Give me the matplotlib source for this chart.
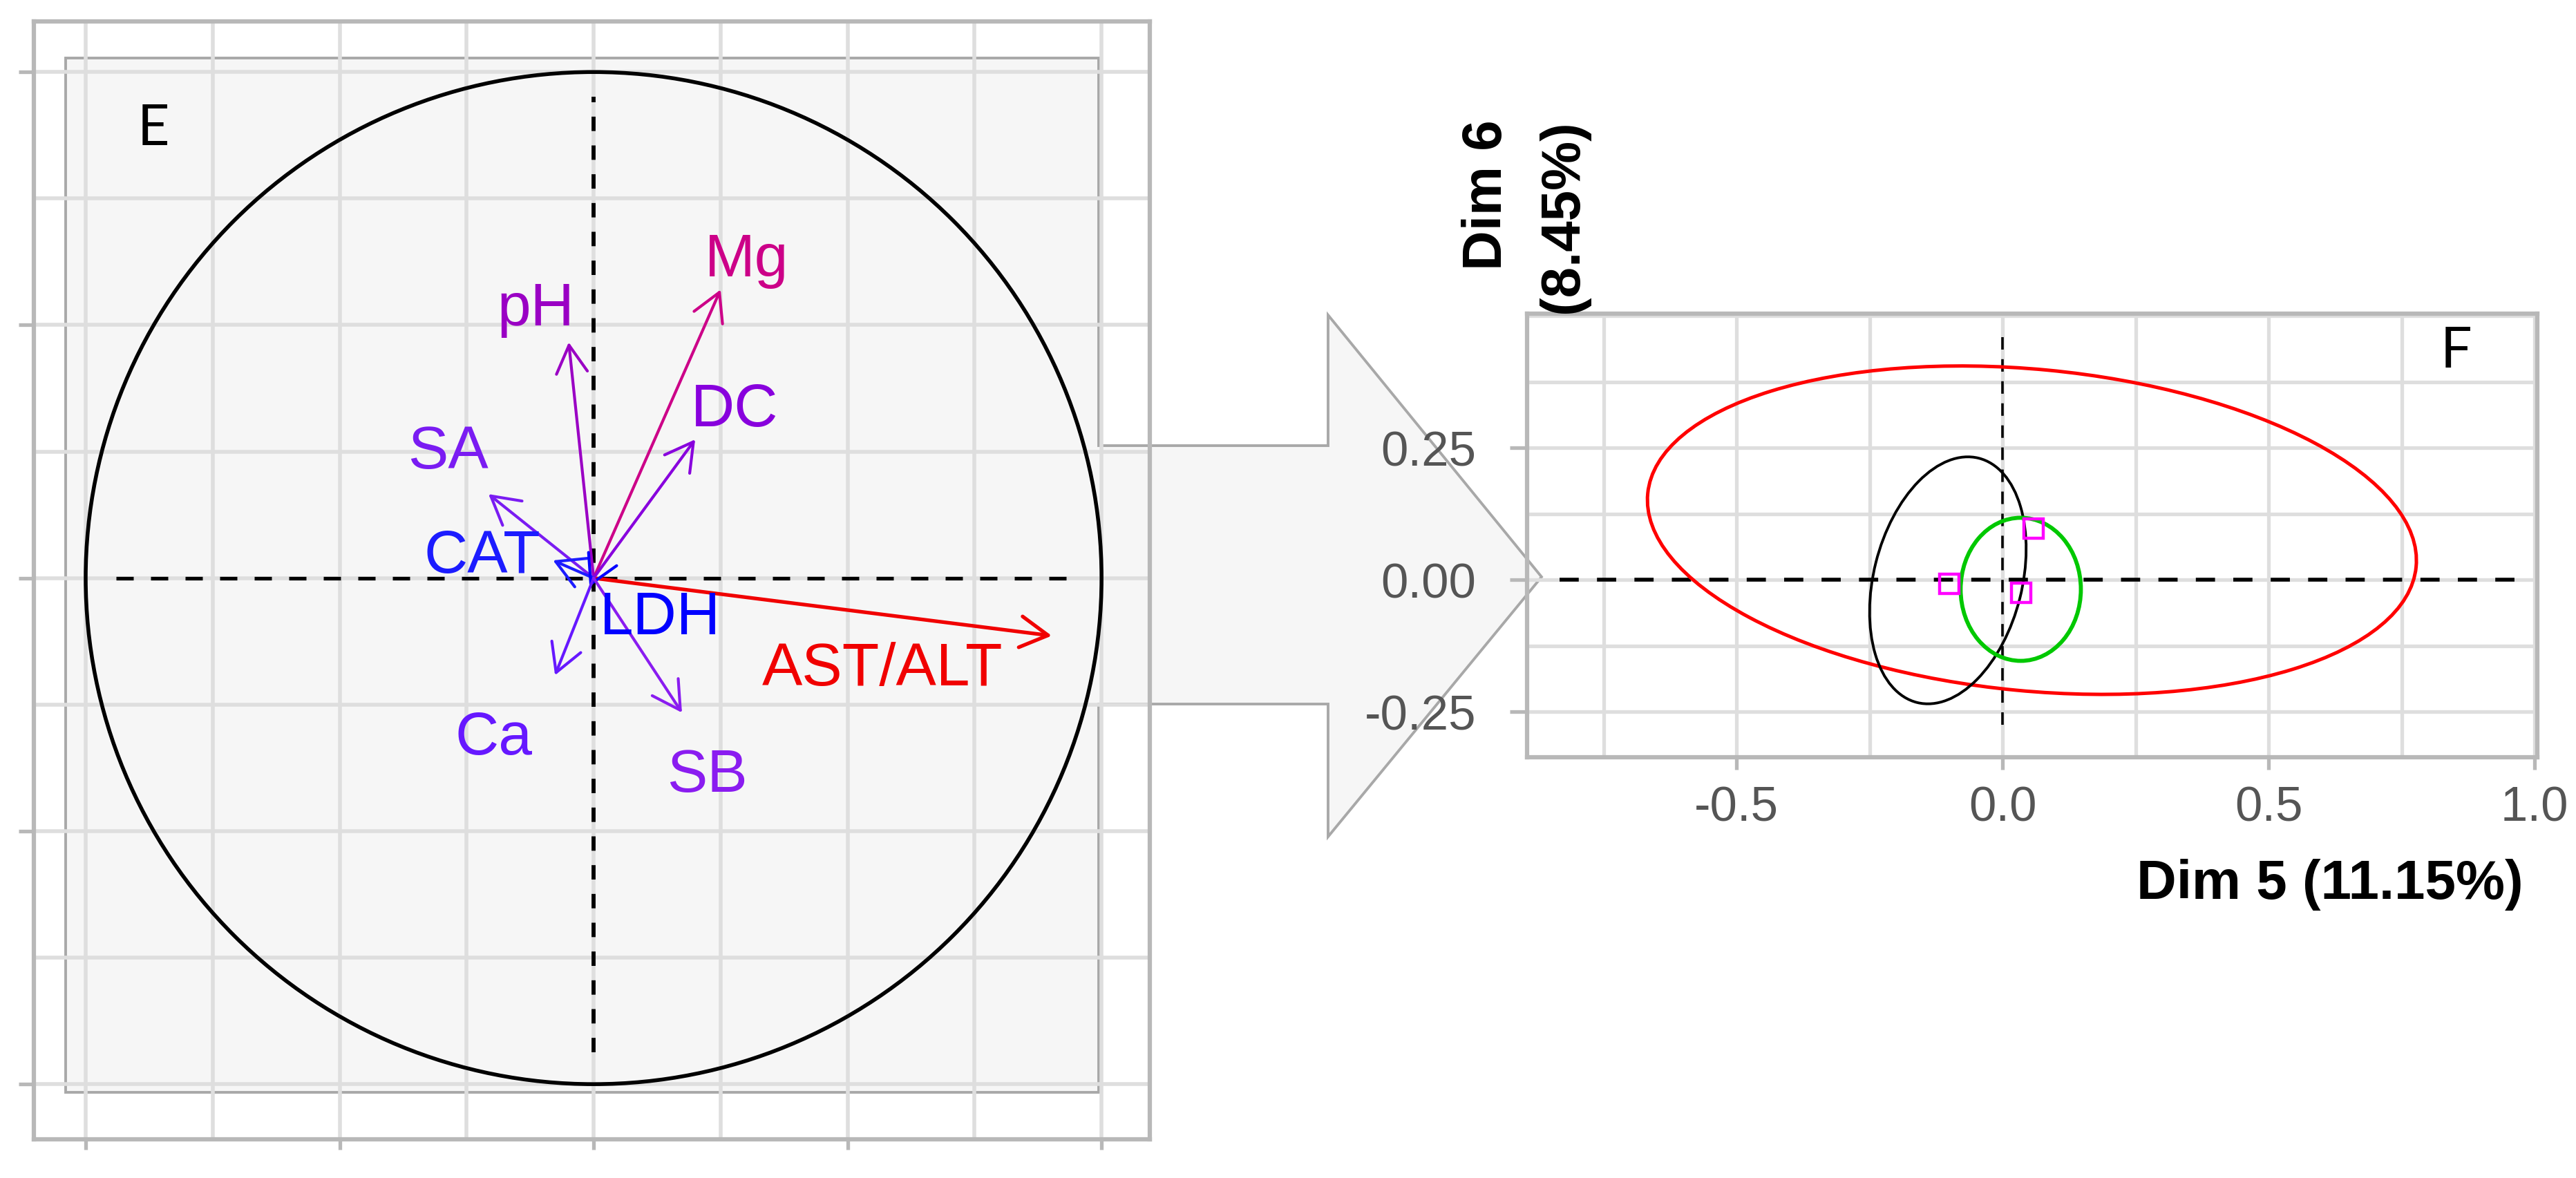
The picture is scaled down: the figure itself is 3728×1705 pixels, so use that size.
"""PCA variable circle (panel E) and Dim 5 / Dim 6 confidence ellipses (panel F)."""

import matplotlib

matplotlib.use("Agg")

import matplotlib.pyplot as plt
from matplotlib.patches import Circle, Ellipse, Polygon
from matplotlib.ticker import MultipleLocator

# ---- data -------------------------------------------------------------
# panel E: variable loadings (arrow tips) and label anchors
var_names = ["AST/ALT", "Mg", "pH", "DC", "SA", "CAT", "LDH", "Ca", "SB"]
var_x = [0.902, 0.250, -0.049, 0.200, -0.207, -0.080, -0.008, -0.076, 0.174]
var_y = [-0.114, 0.570, 0.466, 0.274, 0.166, 0.035, -0.017, -0.192, -0.266]
var_colors = ["#f00000", "#cc0088", "#9a00c4", "#8800dd", "#7a1cf2",
              "#1c1cff", "#0000ff", "#6618ff", "#8a1cf0"]
label_x = [0.569, 0.301, -0.114, 0.278, -0.287, -0.220, 0.131, -0.196, 0.224]
label_y = [-0.210, 0.598, 0.500, 0.302, 0.218, 0.012, -0.109, -0.347, -0.421]

# panel F: group confidence ellipses and group centroids
ell_cx = [0.055, -0.103, 0.034]
ell_cy = [0.094, -0.001, -0.018]
ell_w = [1.451, 0.477, 0.226]
ell_h = [0.609, 0.279, 0.271]
ell_angle = [-5.5, 76.0, 0.0]
ell_colors = ["#ff0000", "#000000", "#00c800"]
ell_lw = [3.6, 2.8, 4.2]

cent_x = [0.058, -0.100, 0.035]
cent_y = [0.097, -0.007, -0.024]

x_ticks_f = [-0.5, 0.0, 0.5, 1.0]
y_ticks_f = [-0.25, 0.0, 0.25]

# ---- figure -----------------------------------------------------------
W, H = 3728, 1706
DPI = 100
plt.rcParams["font.family"] = ["Liberation Sans", "DejaVu Sans"]
plt.rcParams["lines.scale_dashes"] = False

fig = plt.figure(figsize=(W / DPI, H / DPI), dpi=DPI)
fig.patch.set_facecolor("white")

GRID = "#dedede"
SPINE = "#b8b8b8"


def px_box(x0, y0, x1, y1):
    """Figure-fraction rect from pixel corners (top-left origin)."""
    return [x0 / W, 1 - y1 / H, (x1 - x0) / W, (y1 - y0) / H]


# ---- panel E ----------------------------------------------------------
axE = fig.add_axes(px_box(49, 32, 1664, 1650))
axE.set_xlim(-1.102, 1.095)
axE.set_ylim(-1.109, 1.100)
axE.set_facecolor("white")
axE.set_axisbelow(True)

# grey panel merged with the big callout arrow pointing to panel F
callout_px = [(95, 85), (1590, 85), (1590, 646), (1922, 646), (1922, 457),
              (2231, 836), (1922, 1212), (1922, 1020), (1590, 1020),
              (1590, 1582), (95, 1582)]
callout = Polygon([(x / W, 1 - y / H) for x, y in callout_px], closed=True,
                  transform=fig.transFigure, facecolor="#f6f6f6",
                  edgecolor="#a8a8a8", lw=2.8, clip_on=False, zorder=0.2)
axE.add_patch(callout)

axE.xaxis.set_major_locator(MultipleLocator(0.5))
axE.yaxis.set_major_locator(MultipleLocator(0.5))
axE.xaxis.set_minor_locator(MultipleLocator(0.25))
axE.yaxis.set_minor_locator(MultipleLocator(0.25))
axE.grid(which="both", color=GRID, lw=4.0)
axE.tick_params(which="minor", length=0)
axE.tick_params(axis="y", which="major", length=16, width=3.8, color=SPINE,
                labelleft=False)
axE.tick_params(axis="x", which="major", length=11, width=3.8, color=SPINE,
                labelbottom=False)
for sp in axE.spines.values():
    sp.set_color(SPINE)
    sp.set_linewidth(4.5)

axE.add_patch(Circle((0, 0), 1.0, fill=False, ec="black", lw=4.0, zorder=2))
axE.plot([-0.94, 0.94], [0, 0], color="black", lw=3.8, dashes=(18, 18),
         zorder=2)
axE.plot([0, 0], [-0.937, 0.951], color="black", lw=4.2, dashes=(15, 15),
         zorder=2)

for x, y, c in zip(var_x, var_y, var_colors):
    axE.annotate("", xy=(x, y), xytext=(0, 0), zorder=3,
                 arrowprops=dict(arrowstyle="->,head_length=0.8,head_width=0.45",
                                 mutation_scale=36, color=c,
                                 lw=3.8 if c == "#f00000" else 3.0,
                                 shrinkA=0, shrinkB=0))
for name, x, y, c in zip(var_names, label_x, label_y, var_colors):
    axE.text(x, y, name, color=c, fontsize=63, ha="center", va="baseline",
             zorder=4)

axE.text(-0.867, 0.857, "E", fontsize=58, ha="center", va="baseline",
         family=["Lato", "Liberation Sans"], zorder=4)

# ---- panel F ----------------------------------------------------------
axF = fig.add_axes(px_box(2210, 455, 3672, 1097))
axF.set_xlim(-0.894, 1.005)
axF.set_ylim(-0.336, 0.504)
axF.patch.set_alpha(0)
axF.set_axisbelow(True)

axF.set_xticks(x_ticks_f)
axF.set_yticks(y_ticks_f)
axF.set_xticklabels([f"{v:.1f}" for v in x_ticks_f])
axF.set_yticklabels([f"{v:.2f}" for v in y_ticks_f])
axF.xaxis.set_minor_locator(MultipleLocator(0.25))
axF.yaxis.set_minor_locator(MultipleLocator(0.125))
axF.grid(which="both", color=GRID, lw=3.8)
axF.tick_params(which="minor", length=0)
axF.tick_params(axis="y", which="major", length=18, width=3.8, color=SPINE,
                labelsize=51, labelcolor="#555555", pad=35)
axF.tick_params(axis="x", which="major", length=13, width=3.8, color=SPINE,
                labelsize=51, labelcolor="#555555", pad=16)
for sp in axF.spines.values():
    sp.set_color(SPINE)
    sp.set_linewidth(4.5)

axF.plot([-0.833, 0.963], [0, 0], color="black", lw=4.0, dashes=(20, 19),
         zorder=2)
axF.plot([0, 0], [-0.274, 0.460], color="black", lw=2.6, dashes=(13, 10),
         zorder=2)

for cx, cy, w, h, a, c, lw in zip(ell_cx, ell_cy, ell_w, ell_h, ell_angle,
                                  ell_colors, ell_lw):
    axF.add_patch(Ellipse((cx, cy), w, h, angle=a, fill=False, ec=c, lw=lw,
                          zorder=3))

axF.plot(cent_x, cent_y, ls="none", marker="s", ms=20, mfc="none",
         mec="#ff00ff", mew=3.2, zorder=4)

axF.text(0.852, 0.403, "F", fontsize=58, ha="center", va="baseline",
         family=["Lato", "Liberation Sans"], zorder=4)

fig.text(3652 / W, 1 - 1281 / H, "Dim 5 (11.15%)", fontsize=57.5,
         fontweight="bold", ha="right", va="center")
# two-line rotated y title, both lines flush at the top
fig.text(2153 / W, 1 - 173 / H, "Dim 6", fontsize=57.5, fontweight="bold",
         rotation=90, ha="center", va="top")
fig.text(2262 / W, 1 - 173 / H, "(8.45%)", fontsize=57.5, fontweight="bold",
         rotation=90, ha="center", va="top")

fig.savefig("out.png", dpi=DPI, facecolor="white")
